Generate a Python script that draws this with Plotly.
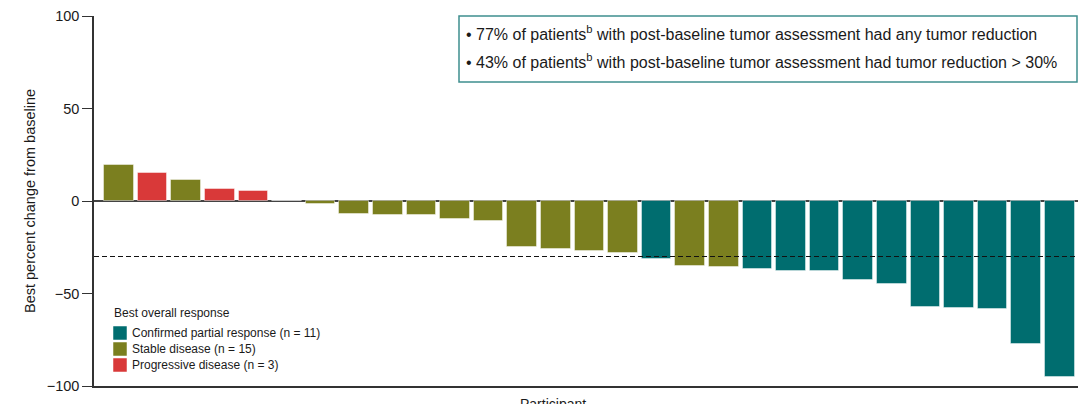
import plotly.graph_objects as go

# Best percent change from baseline per participant, ordered as plotted
change = [19.6, 15.3, 11.5, 6.7, 5.2, 0.0, -1.8, -6.8, -7.7, -7.7,
          -9.9, -10.6, -25.0, -26.2, -27.1, -28.2, -31.4, -34.9, -35.8, -37.0,
          -37.9, -37.9, -42.9, -44.9, -57.3, -58.0, -58.6, -77.3, -95.1]
response = ["SD", "PD", "SD", "PD", "PD", "SD", "SD", "SD", "SD", "SD",
            "SD", "SD", "SD", "SD", "SD", "SD", "PR", "SD", "SD", "PR",
            "PR", "PR", "PR", "PR", "PR", "PR", "PR", "PR", "PR"]

categories = ["PR", "SD", "PD"]
category_labels = ["Confirmed partial response (n = 11)",
                   "Stable disease (n = 15)",
                   "Progressive disease (n = 3)"]
category_colors = ["#006D6F", "#7B7F1F", "#D93939"]

threshold = -30
y_ticks = [-100, -50, 0, 50, 100]
summary_lines = [
    "\u2022 77% of patients<sup>b</sup> with post-baseline tumor assessment had any tumor reduction",
    "\u2022 43% of patients<sup>b</sup> with post-baseline tumor assessment had tumor reduction > 30%",
]

FONT = "Liberation Sans, Arial, sans-serif"
W, H = 1078, 404
ML, MR, MT, MB = 94, 0, 16, 18
PW, PH = W - ML - MR, H - MT - MB


def px_x(x):
    return (x - ML) / PW


def px_y(y):
    return (H - MB - y) / PH


fig = go.Figure()
for cat, color in zip(categories, category_colors):
    xs = [i for i, r in enumerate(response) if r == cat]
    ys = [change[i] for i in xs]
    fig.add_trace(go.Bar(
        x=xs, y=ys, width=0.88, marker_color=color,
        marker_line=dict(color="rgba(255,255,255,0.45)", width=1),
        showlegend=False, hoverinfo="x+y",
    ))

# -30% reference line
fig.add_shape(type="line", xref="paper", yref="y", x0=0, x1=1,
              y0=threshold, y1=threshold,
              line=dict(color="#111", width=1.2, dash="5px,3px"))

# summary box
fig.add_shape(type="rect", xref="paper", yref="paper",
              x0=px_x(459), x1=px_x(1077), y0=px_y(82), y1=px_y(16),
              line=dict(color="#3E8E8F", width=1.5), fillcolor="white")
for line, yc in zip(summary_lines, [33, 61]):
    fig.add_annotation(text=line, xref="paper", yref="paper",
                       x=px_x(464), y=px_y(yc), xanchor="left", yanchor="middle",
                       showarrow=False, font=dict(family=FONT, size=16, color="#1a1a1a"))

# legend block
fig.add_annotation(text="Best overall response", xref="paper", yref="paper",
                   x=px_x(112), y=px_y(313), xanchor="left", yanchor="middle",
                   showarrow=False, font=dict(family=FONT, size=12, color="#1a1a1a"))
for label, color, yc in zip(category_labels, category_colors, [333, 349, 365]):
    fig.add_shape(type="rect", xref="paper", yref="paper",
                  x0=px_x(113), x1=px_x(127), y0=px_y(yc + 7), y1=px_y(yc - 7),
                  line=dict(color="rgba(255,255,255,0.5)", width=1), fillcolor=color)
    fig.add_annotation(text=label, xref="paper", yref="paper",
                       x=px_x(130), y=px_y(yc), xanchor="left", yanchor="middle",
                       showarrow=False, font=dict(family=FONT, size=12, color="#1a1a1a"))

# axis titles
fig.add_annotation(text="Best percent change from baseline", xref="paper", yref="paper",
                   x=px_x(30), y=0.5, xanchor="center", yanchor="middle", textangle=-90,
                   showarrow=False, font=dict(family=FONT, size=14.5, color="#1a1a1a"))
fig.add_annotation(text="Participant", xref="paper", yref="paper",
                   x=px_x(553), y=0, xanchor="center", yanchor="top", yshift=-8,
                   showarrow=False, font=dict(family=FONT, size=14, color="#1a1a1a"))

fig.update_layout(
    width=W, height=H,
    margin=dict(l=ML, r=MR, t=MT, b=MB, pad=0),
    paper_bgcolor="white", plot_bgcolor="white",
    bargap=0, barmode="overlay",
    font=dict(family=FONT, size=14, color="#1a1a1a"),
    xaxis=dict(range=[-0.744, 28.54], showticklabels=False, ticks="",
               showgrid=False, zeroline=False, showline=True,
               linecolor="#333", linewidth=1.5, fixedrange=True),
    yaxis=dict(range=[-100, 100], tickvals=y_ticks, ticks="outside", ticklen=10,
               tickwidth=1.2, tickcolor="#333", showgrid=False,
               zeroline=True, zerolinecolor="#444", zerolinewidth=1.5,
               showline=True, linecolor="#333", linewidth=1.5,
               tickfont=dict(family=FONT, size=14.5, color="#1a1a1a")),
)

fig.write_html("out.html")
